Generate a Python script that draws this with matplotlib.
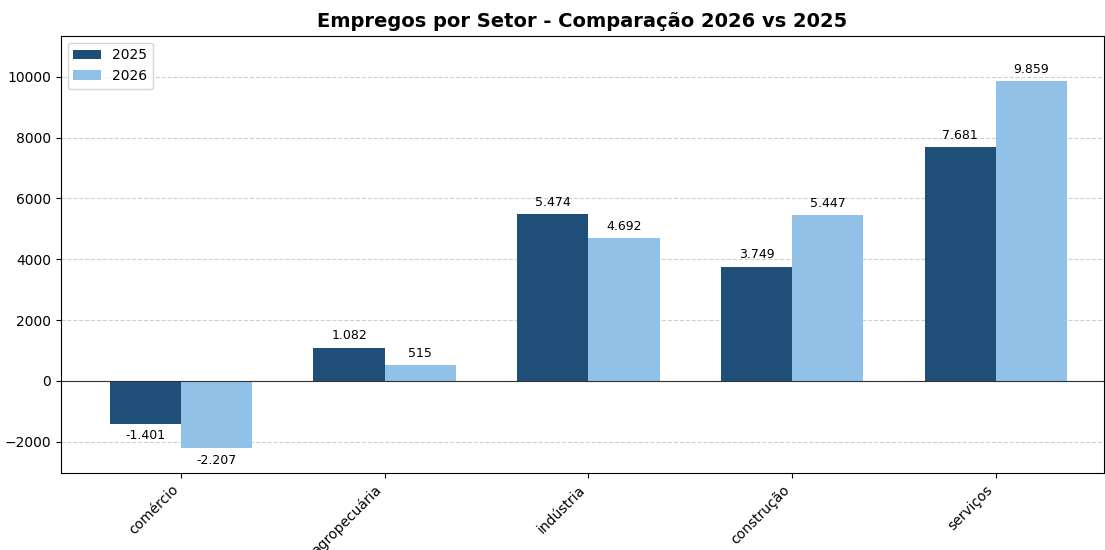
import matplotlib
matplotlib.use("Agg")
import matplotlib.pyplot as plt
import numpy as np

setores = ["comércio", "agropecuária", "indústria", "construção", "serviços"]
empregos_2025 = [-1401, 1082, 5474, 3749, 7681]
empregos_2026 = [-2207, 515, 4692, 5447, 9859]

cor_2025 = "#1f4e79"
cor_2026 = "#92c1e8"


def fmt(v):
    return f"{v:,}".replace(",", ".")


fig, ax = plt.subplots(figsize=(11.05, 5.5), dpi=100)
fig.subplots_adjust(left=0.055, right=0.999, top=0.935, bottom=0.14)

x = np.arange(len(setores))
w = 0.35
b1 = ax.bar(x - w / 2, empregos_2025, w, color=cor_2025, label="2025")
b2 = ax.bar(x + w / 2, empregos_2026, w, color=cor_2026, label="2026")

for barras in (b1, b2):
    for b in barras:
        h = b.get_height()
        if h >= 0:
            ax.annotate(fmt(int(h)), (b.get_x() + b.get_width() / 2, h),
                        xytext=(0, 4), textcoords="offset points",
                        ha="center", va="bottom", fontsize=9)
        else:
            ax.annotate(fmt(int(h)), (b.get_x() + b.get_width() / 2, h),
                        xytext=(0, -4), textcoords="offset points",
                        ha="center", va="top", fontsize=9)

ax.axhline(0, color="#333333", linewidth=0.8)
ax.grid(axis="y", linestyle="--", alpha=0.6)
ax.set_axisbelow(True)
ax.set_xticks(x)
ax.set_xticklabels(setores, rotation=45, ha="right")
ax.set_xlim(-0.59, 4.53)
ax.set_ylim(-3026, 11349)
ax.set_title("Empregos por Setor - Comparação 2026 vs 2025", fontsize=14, fontweight="bold")
ax.legend(loc="upper left")

fig.savefig("out.png", dpi=100)
